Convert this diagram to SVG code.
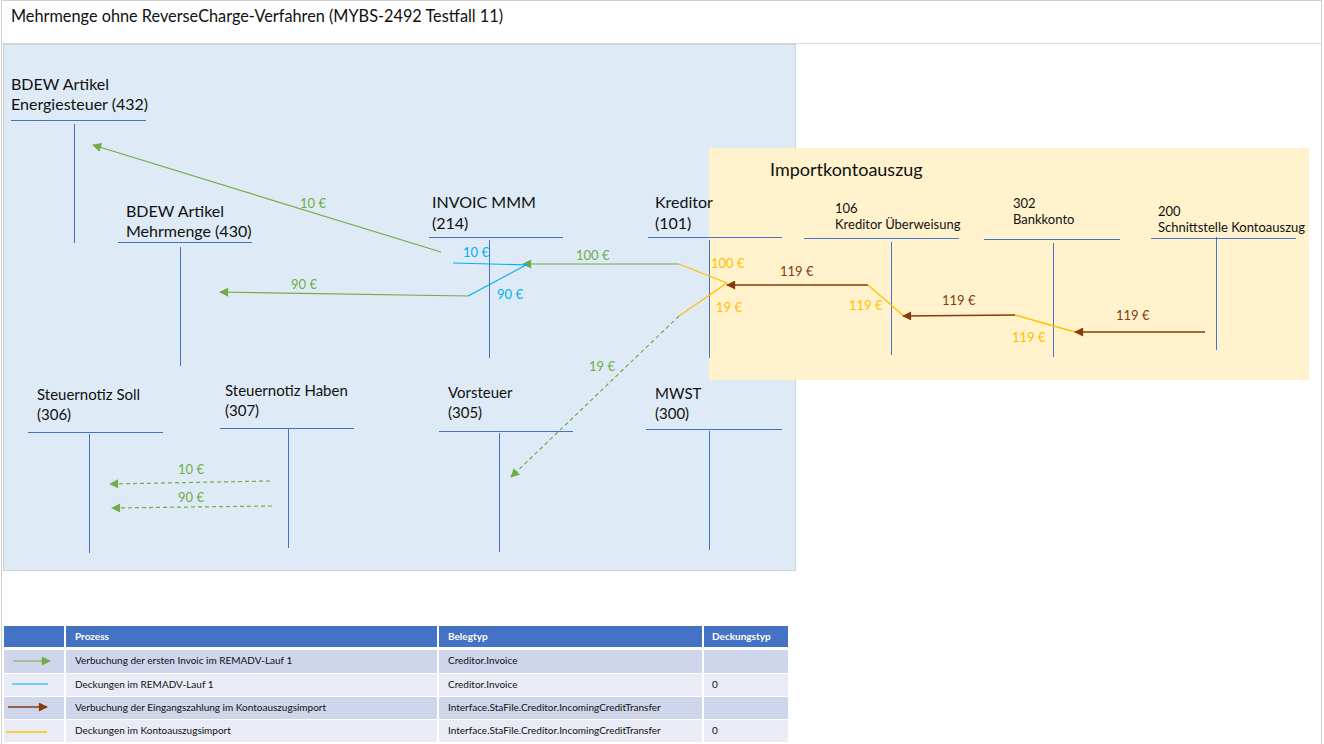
<svg xmlns="http://www.w3.org/2000/svg" width="1324" height="744" viewBox="0 0 1324 744">
<style>
text{font-family:Lato,"Liberation Sans",sans-serif;fill:#111}
.n{font-size:16px}
.s{font-size:13px}
.h{stroke:#4472C4;stroke-width:1.2;fill:none}
.v{stroke:#4472C4;stroke-width:1;fill:none}
.g{stroke:#70AD47;stroke-width:1.2;fill:none}
.gd{stroke:#70AD47;stroke-width:1.2;fill:none;stroke-dasharray:4 3}
.c{stroke:#00B0F0;stroke-width:1.2;fill:none}
.y{stroke:#FFC000;stroke-width:1.3;fill:none}
.b{stroke:#843C0C;stroke-width:1.4;fill:none}
.lg{fill:#70AD47;font-size:13px}
.lc{fill:#00B0F0;font-size:13px}
.ly{fill:#FFC000;font-size:13px}
.lb{fill:#843C0C;font-size:13px}
.th{fill:#fff;font-size:10px;font-weight:bold}
.td{font-size:10px}
</style>
<defs>
<marker id="ag" viewBox="0 0 10 10" refX="9" refY="5" markerWidth="10" markerHeight="9" markerUnits="userSpaceOnUse" orient="auto"><path d="M0,0L10,5L0,10z" fill="#70AD47"/></marker>
<marker id="ab" viewBox="0 0 10 10" refX="9" refY="5" markerWidth="10" markerHeight="9" markerUnits="userSpaceOnUse" orient="auto"><path d="M0,0L10,5L0,10z" fill="#843C0C"/></marker>
</defs>
<rect x="0" y="0" width="1324" height="744" fill="#fff"/>
<rect x="1.5" y="0.5" width="1320" height="760" fill="none" stroke="#d0d0d0"/>
<line x1="2" y1="43.5" x2="1322" y2="43.5" stroke="#d8d8d8"/>
<text x="11" y="22" style="font-size:16.3px">Mehrmenge ohne ReverseCharge-Verfahren (MYBS-2492 Testfall 11)</text>
<rect x="3.5" y="44.5" width="792" height="526" fill="#DEEAF6" stroke="#d0d0d0"/>
<g id="importkontoauszug">
<rect x="709" y="148" width="600" height="232" fill="#FFF2CC"/>
<text x="770" y="176" style="font-size:18px">Importkontoauszug</text>
</g>
<g id="acc432"><text class="n" x="11" y="90">BDEW Artikel</text><text class="n" x="11" y="110">Energiesteuer (432)</text><line class="h" x1="11" y1="120.5" x2="146" y2="120.5"/><line class="v" x1="74.5" y1="124" x2="74.5" y2="243"/></g>
<g id="acc430"><text class="n" x="126" y="217">BDEW Artikel</text><text class="n" x="126" y="237">Mehrmenge (430)</text><line class="h" x1="118" y1="242.5" x2="252" y2="242.5"/><line class="v" x1="180.5" y1="247" x2="180.5" y2="366"/></g>
<g id="acc214"><text class="n" x="432" y="208">INVOIC MMM</text><text class="n" x="432" y="229">(214)</text><line class="h" x1="429" y1="237.5" x2="563" y2="237.5"/><line class="v" x1="489.5" y1="240" x2="489.5" y2="358"/></g>
<g id="acc101"><text class="n" x="655" y="208">Kreditor</text><text class="n" x="655" y="229">(101)</text><line class="h" x1="648" y1="237.5" x2="782" y2="237.5"/><line class="v" x1="709.5" y1="240" x2="709.5" y2="358"/></g>
<g id="acc306"><text class="n" x="37" y="400" style="font-size:15px">Steuernotiz Soll</text><text class="n" x="37" y="420" style="font-size:15px">(306)</text><line class="h" x1="28" y1="432.5" x2="163" y2="432.5"/><line class="v" x1="89.5" y1="434" x2="89.5" y2="553"/></g>
<g id="acc307"><text class="n" x="225" y="396" style="font-size:15px">Steuernotiz Haben</text><text class="n" x="225" y="416" style="font-size:15px">(307)</text><line class="h" x1="220" y1="428.5" x2="354" y2="428.5"/><line class="v" x1="288.5" y1="429" x2="288.5" y2="548"/></g>
<g id="acc305"><text class="n" x="448" y="398" style="font-size:15px">Vorsteuer</text><text class="n" x="448" y="418" style="font-size:15px">(305)</text><line class="h" x1="439" y1="431.5" x2="573" y2="431.5"/><line class="v" x1="499.5" y1="433" x2="499.5" y2="552"/></g>
<g id="acc300"><text class="n" x="655" y="399" style="font-size:15px">MWST</text><text class="n" x="655" y="419" style="font-size:15px">(300)</text><line class="h" x1="646" y1="429.5" x2="782" y2="429.5"/><line class="v" x1="709.5" y1="431" x2="709.5" y2="550"/></g>
<g id="acc106"><text class="s" x="835" y="213">106</text><text class="s" x="835" y="229">Kreditor Überweisung</text><line class="h" x1="804" y1="238.5" x2="959" y2="238.5"/><line class="v" x1="891.5" y1="242" x2="891.5" y2="355"/></g>
<g id="acc302"><text class="s" x="1013" y="208">302</text><text class="s" x="1013" y="224">Bankkonto</text><line class="h" x1="984" y1="239.5" x2="1120" y2="239.5"/><line class="v" x1="1053.5" y1="243" x2="1053.5" y2="357"/></g>
<g id="acc200"><text class="s" x="1158" y="216">200</text><text class="s" x="1158" y="232">Schnittstelle Kontoauszug</text><line class="h" x1="1151" y1="238.5" x2="1296" y2="238.5"/><line class="v" x1="1216.5" y1="237" x2="1216.5" y2="350"/></g>
<g id="connectors">
<line class="g" x1="441" y1="252" x2="93" y2="145" marker-end="url(#ag)"/>
<text class="lg" x="300" y="208">10 €</text>
<line class="g" x1="679" y1="264" x2="523" y2="264" marker-end="url(#ag)"/>
<text class="lg" x="576" y="260">100 €</text>
<line class="g" x1="468" y1="296" x2="220" y2="292" marker-end="url(#ag)"/>
<text class="lg" x="291" y="289">90 €</text>
<line class="gd" x1="679" y1="316" x2="511" y2="477" marker-end="url(#ag)"/>
<text class="lg" x="589" y="371">19 €</text>
<line class="gd" x1="270" y1="481" x2="110" y2="484" marker-end="url(#ag)"/>
<text class="lg" x="178" y="474">10 €</text>
<line class="gd" x1="272" y1="506" x2="112" y2="508" marker-end="url(#ag)"/>
<text class="lg" x="178" y="502">90 €</text>
<line class="c" x1="453" y1="263" x2="528" y2="265"/>
<text class="lc" x="463" y="257">10 €</text>
<line class="c" x1="468" y1="296" x2="528" y2="264"/>
<text class="lc" x="497" y="299">90 €</text>
<line class="y" x1="679" y1="264" x2="727" y2="283"/>
<text class="ly" x="711" y="268">100 €</text>
<line class="y" x1="679" y1="316" x2="727" y2="283"/>
<text class="ly" x="716" y="312">19 €</text>
<line class="y" x1="868" y1="285" x2="905" y2="317"/>
<text class="ly" x="849" y="310">119 €</text>
<line class="y" x1="1015" y1="315" x2="1075" y2="332"/>
<text class="ly" x="1012" y="342">119 €</text>
<line class="b" x1="868" y1="285" x2="727" y2="285" marker-end="url(#ab)"/>
<text class="lb" x="780" y="276">119 €</text>
<line class="b" x1="1015" y1="315" x2="903" y2="316" marker-end="url(#ab)"/>
<text class="lb" x="942" y="305">119 €</text>
<line class="b" x1="1205" y1="332" x2="1075" y2="332" marker-end="url(#ab)"/>
<text class="lb" x="1116" y="320">119 €</text>
</g>
<g id="legend">
<rect x="4" y="626" width="60" height="21" fill="#4472C4"/>
<rect x="66" y="626" width="371" height="21" fill="#4472C4"/>
<rect x="439" y="626" width="263" height="21" fill="#4472C4"/>
<rect x="704" y="626" width="84" height="21" fill="#4472C4"/>
<text class="th" x="75" y="640">Prozess</text>
<text class="th" x="448" y="640">Belegtyp</text>
<text class="th" x="712" y="640">Deckungstyp</text>
<rect x="4" y="650" width="784" height="23" fill="#CFD5EA"/>
<rect x="4" y="674" width="784" height="22" fill="#E9EBF5"/>
<rect x="4" y="697" width="784" height="22" fill="#CFD5EA"/>
<rect x="4" y="720" width="784" height="22" fill="#E9EBF5"/>
<g stroke="#fff" stroke-width="2"><line x1="65" y1="648" x2="65" y2="742"/><line x1="438" y1="648" x2="438" y2="742"/><line x1="703" y1="648" x2="703" y2="742"/></g>
<line class="g" x1="13" y1="661" x2="50" y2="661" marker-end="url(#ag)"/>
<line class="c" x1="12" y1="684" x2="48" y2="684"/>
<line class="b" x1="8" y1="707" x2="47" y2="707" marker-end="url(#ab)"/>
<line class="y" x1="6" y1="732" x2="47" y2="732"/>
<text class="td" x="75" y="664">Verbuchung der ersten Invoic im REMADV-Lauf 1</text>
<text class="td" x="448" y="664">Creditor.Invoice</text>
<text class="td" x="75" y="688">Deckungen im REMADV-Lauf 1</text>
<text class="td" x="448" y="688">Creditor.Invoice</text>
<text class="td" x="712" y="688">0</text>
<text class="td" x="75" y="711">Verbuchung der Eingangszahlung im Kontoauszugsimport</text>
<text class="td" x="448" y="711">Interface.StaFile.Creditor.IncomingCreditTransfer</text>
<text class="td" x="75" y="734">Deckungen im Kontoauszugsimport</text>
<text class="td" x="448" y="734">Interface.StaFile.Creditor.IncomingCreditTransfer</text>
<text class="td" x="712" y="734">0</text>
</g>
</svg>
